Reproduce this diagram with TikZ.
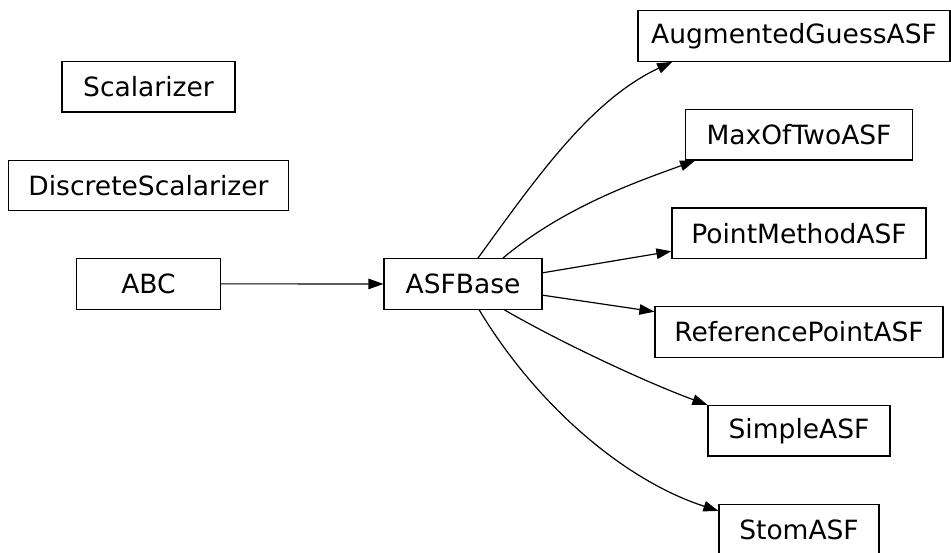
\documentclass[tikz,border=0pt]{standalone}
\usepackage{fontspec}
\setmainfont{DejaVu Sans}
\usetikzlibrary{arrows.meta}
\begin{document}
\begin{tikzpicture}[x=1pt,y=-1pt,
  cls/.style={draw, line width=1.2pt, minimum height=50.6pt, inner sep=0pt,
    font=\fontsize{26.5}{30}\selectfont},
  edge/.style={line width=1.2pt, -{Triangle[length=15pt,width=10.5pt]}}]
\useasboundingbox (0,0) rectangle (951,552);
\node[cls, minimum width=173pt] (scal) at (148.5,86.7) {Scalarizer};
\node[cls, minimum width=280pt] (disc) at (148.5,185.5) {DiscreteScalarizer};
\node[cls, minimum width=144pt] (abc) at (148.5,283.8) {ABC};
\node[cls, minimum width=158pt] (asf) at (463,284) {ASFBase};
\node[cls, minimum width=312pt] (aug) at (794,36) {AugmentedGuessASF};
\node[cls, minimum width=227pt] (max) at (799,134.7) {MaxOfTwoASF};
\node[cls, minimum width=254pt] (point) at (799,233.3) {PointMethodASF};
\node[cls, minimum width=288pt] (ref) at (799,332) {ReferencePointASF};
\node[cls, minimum width=182pt] (simple) at (799,430.7) {SimpleASF};
\node[cls, minimum width=160pt] (stom) at (799,529.5) {StomASF};

\draw[edge] (abc) -- (asf);
\draw[edge] (asf.60) .. controls +(58.8,-80.9) and +(-81.5,38.1) .. (aug.192.7);
\draw[edge] (asf.33.7) .. controls +(61.3,-51.4) and +(-56.4,20.5) .. (max.194.3);
\draw[edge] (asf.8.6) -- (point.188.8);
\draw[edge] (asf.-8) -- (ref.172);
\draw[edge] (asf.328.1) .. controls +(60.6,35) and +(-56.4,-20.5) .. (simple.north west);
\draw[edge] (asf.302.6) .. controls +(56.7,94.3) and +(-95.1,-30.9) .. (stom.167.5);
\end{tikzpicture}
\end{document}
